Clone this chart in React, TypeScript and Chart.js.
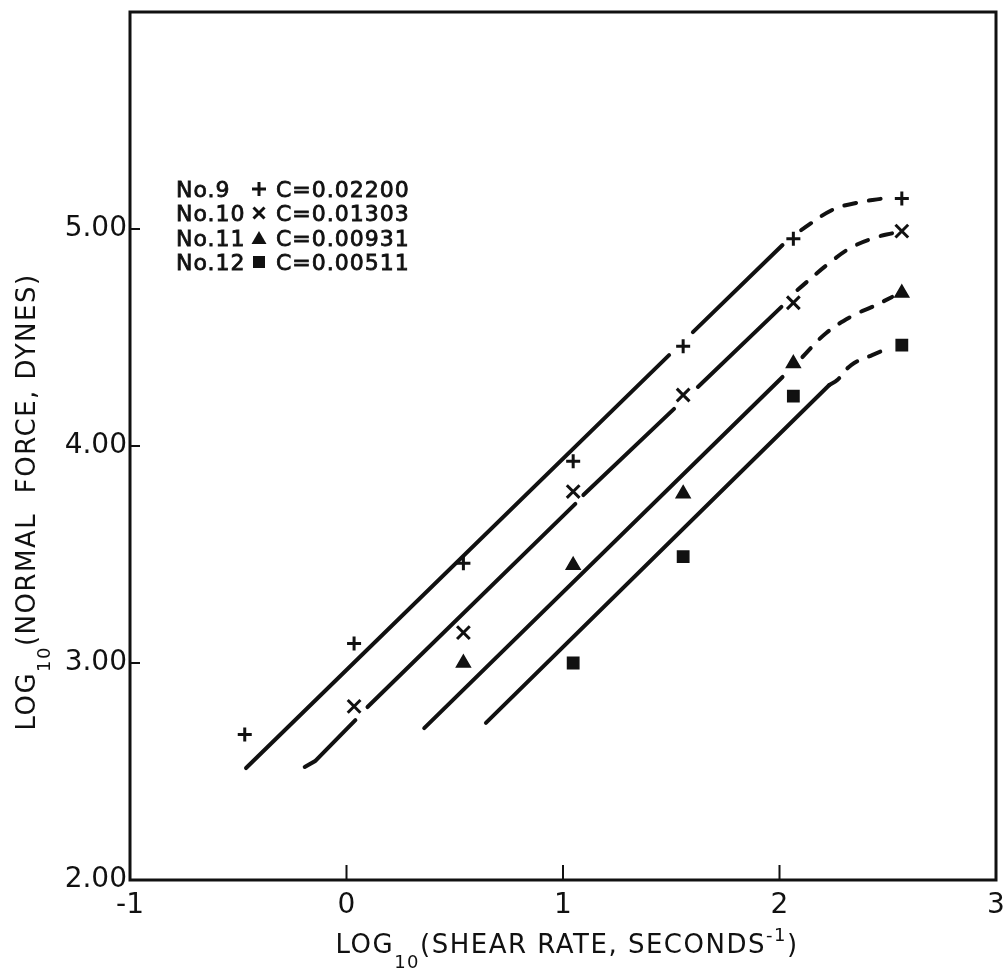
import React, { useEffect, useRef } from 'react';
import { Chart, registerables } from 'chart.js';

Chart.register(...registerables);

// ---------- data ----------
const xTicks = [-1, 0, 1, 2, 3];
const yTicks = [2, 3, 4, 5];
const xMin = -1, xMax = 3, yMin = 2, yMax = 6;

const shearRate = [-0.47, 0.035, 0.54, 1.047, 1.555, 2.064, 2.565];
const no9Force = [2.67, 3.09, 3.46, 3.93, 4.46, 4.955, 5.14];
const no10Force = [null, 2.8, 3.14, 3.79, 4.235, 4.66, 4.99];
const no11Force = [null, null, 3.0, 3.45, 3.78, 4.38, 4.705];
const no12Force = [null, null, null, 3.0, 3.49, 4.23, 4.465];

const seriesNames = ['No.9', 'No.10', 'No.11', 'No.12'];
const concentrations = ['C=0.02200', 'C=0.01303', 'C=0.00931', 'C=0.00511'];
const markerStyles = ['cross', 'crossRot', 'triangle', 'rect'];

// fitted curves: solid segments (gaps at markers) and dashed extrapolations, [x, y]
const fit9Solid = [
  [[-0.464, 2.516], [1.49, 4.419]],
  [[1.6, 4.525], [2.014, 4.926]],
];
const fit9Dashed = [[2.1, 4.995], [2.244, 5.088], [2.354, 5.12], [2.474, 5.14]];

const fit10Solid = [
  [[-0.193, 2.521], [-0.145, 2.548], [0.041, 2.737]],
  [[0.097, 2.797], [1.057, 3.733]],
  [[1.094, 3.774], [1.513, 4.171]],
  [[1.623, 4.272], [2.009, 4.641]],
];
const fit10Dashed = [[2.083, 4.719], [2.23, 4.843], [2.336, 4.917], [2.451, 4.963], [2.52, 4.98]];

const fit11Solid = [[[0.359, 2.7], [2.014, 4.318]]];
const fit11Dashed = [[2.106, 4.41], [2.216, 4.521], [2.345, 4.604], [2.428, 4.641], [2.52, 4.687]];

const fit12Solid = [[[0.644, 2.724], [2.23, 4.281]]];
const fit12Dashed = [[2.23, 4.281], [2.267, 4.304], [2.331, 4.373], [2.428, 4.419], [2.52, 4.456]];

// ---------- styling ----------
const INK = '#111111';
const FONT = '"DejaVu Sans", "Liberation Sans", sans-serif';

const toPts = (arr: number[][]) => arr.map(([x, y]) => ({ x, y }));
const seriesPts = (ys: (number | null)[]) =>
  ys.map((y, i) => (y == null ? null : { x: shearRate[i], y })).filter(Boolean) as { x: number; y: number }[];

function solidDatasets(segs: number[][][]) {
  return segs.map((s) => ({
    type: 'line' as const,
    data: toPts(s),
    showLine: true,
    borderColor: INK,
    borderWidth: 4,
    borderCapStyle: 'round' as const,
    pointRadius: 0,
    tension: 0,
    order: 2,
  }));
}
function dashedDataset(pts: number[][]) {
  return {
    type: 'line' as const,
    data: toPts(pts),
    showLine: true,
    borderColor: INK,
    borderWidth: 4,
    borderDash: [12, 13],
    borderCapStyle: 'round' as const,
    pointRadius: 0,
    tension: 0.4,
    order: 2,
  };
}
function markerDataset(ys: (number | null)[], style: string, radius: number, filled: boolean) {
  return {
    type: 'scatter' as const,
    data: seriesPts(ys),
    showLine: false,
    pointStyle: style,
    pointRadius: radius,
    pointHoverRadius: radius,
    pointBorderWidth: filled ? 1.5 : 3,
    borderColor: INK,
    backgroundColor: filled ? INK : 'transparent',
    order: 1,
  };
}

function drawRich(ctx: CanvasRenderingContext2D, parts: { t: string; size: number; dy: number }[], cx: number, baseY: number, spacing: string) {
  (ctx as any).letterSpacing = spacing;
  let total = 0;
  const widths = parts.map((p) => {
    ctx.font = `${p.size}px ${FONT}`;
    const w = ctx.measureText(p.t).width;
    total += w;
    return w;
  });
  let x = cx - total / 2;
  ctx.textAlign = 'left';
  ctx.textBaseline = 'alphabetic';
  parts.forEach((p, i) => {
    ctx.font = `${p.size}px ${FONT}`;
    ctx.fillText(p.t, x, baseY + p.dy);
    x += widths[i];
  });
  (ctx as any).letterSpacing = '0px';
}

const decorPlugin = {
  id: 'decor',
  afterDraw(chart: any) {
    const { ctx, chartArea: a, scales } = chart;
    ctx.save();
    ctx.strokeStyle = INK;
    ctx.fillStyle = INK;
    // frame
    ctx.lineWidth = 3;
    ctx.strokeRect(a.left, a.top, a.right - a.left, a.bottom - a.top);
    // inward ticks
    ctx.lineWidth = 2;
    ctx.beginPath();
    xTicks.forEach((v) => {
      if (v <= xMin || v >= xMax) return;
      const px = scales.x.getPixelForValue(v);
      ctx.moveTo(px, a.bottom);
      ctx.lineTo(px, a.bottom - 15);
    });
    yTicks.forEach((v) => {
      if (v <= yMin || v >= yMax) return;
      const py = scales.y.getPixelForValue(v);
      ctx.moveTo(a.left, py);
      ctx.lineTo(a.left + 10, py);
    });
    ctx.stroke();

    // legend block
    const rowBase = [197, 221, 246, 270];
    const nameX = 176, symX = 259, cX = 276;
    ctx.font = `22px ${FONT}`;
    (ctx as any).letterSpacing = '1px';
    ctx.textAlign = 'left';
    ctx.textBaseline = 'alphabetic';
    seriesNames.forEach((n, i) => {
      const yb = rowBase[i];
      ctx.lineWidth = 0.8;
      ctx.fillText(n, nameX, yb);
      ctx.strokeText(n, nameX, yb);
      ctx.fillText(concentrations[i], cX, yb);
      ctx.strokeText(concentrations[i], cX, yb);
      const cy = yb - 8;
      const st = markerStyles[i];
      ctx.lineWidth = 3;
      ctx.beginPath();
      if (st === 'cross') {
        ctx.moveTo(symX - 7, cy); ctx.lineTo(symX + 7, cy);
        ctx.moveTo(symX, cy - 7); ctx.lineTo(symX, cy + 7);
        ctx.stroke();
      } else if (st === 'crossRot') {
        ctx.moveTo(symX - 5.5, cy - 5.5); ctx.lineTo(symX + 5.5, cy + 5.5);
        ctx.moveTo(symX - 5.5, cy + 5.5); ctx.lineTo(symX + 5.5, cy - 5.5);
        ctx.stroke();
      } else if (st === 'triangle') {
        ctx.moveTo(symX, cy - 7); ctx.lineTo(symX + 7.5, cy + 6); ctx.lineTo(symX - 7.5, cy + 6);
        ctx.closePath(); ctx.fill();
      } else {
        ctx.rect(symX - 6, cy - 6, 12, 12); ctx.fill();
      }
    });
    (ctx as any).letterSpacing = '0px';

    // x axis title
    drawRich(ctx, [
      { t: 'LOG', size: 26, dy: 0 },
      { t: '10', size: 18, dy: 15 },
      { t: '(SHEAR RATE, SECONDS', size: 26, dy: 0 },
      { t: '-1', size: 18, dy: -12 },
      { t: ')', size: 26, dy: 0 },
    ], (a.left + a.right) / 2 + 4, 953, '1.5px');

    // y axis title
    ctx.save();
    ctx.translate(35, 502);
    ctx.rotate(-Math.PI / 2);
    drawRich(ctx, [
      { t: 'LOG', size: 26, dy: 0 },
      { t: '10', size: 18, dy: 15 },
      { t: '(NORMAL  FORCE, DYNES)', size: 26, dy: 0 },
    ], 0, 0, '1.5px');
    ctx.restore();

    ctx.restore();
  },
};

export default function App() {
  const ref = useRef<HTMLCanvasElement>(null);
  useEffect(() => {
    document.body.style.margin = '0';
    const datasets: any[] = [
      ...solidDatasets(fit9Solid), dashedDataset(fit9Dashed),
      ...solidDatasets(fit10Solid), dashedDataset(fit10Dashed),
      ...solidDatasets(fit11Solid), dashedDataset(fit11Dashed),
      ...solidDatasets(fit12Solid), dashedDataset(fit12Dashed),
      markerDataset(no9Force, 'cross', 7, false),
      markerDataset(no10Force, 'crossRot', 9, false),
      markerDataset(no11Force, 'triangle', 8, true),
      markerDataset(no12Force, 'rect', 8, true),
    ];
    const chart = new Chart(ref.current as HTMLCanvasElement, {
      type: 'scatter',
      data: { datasets },
      options: {
        responsive: false,
        devicePixelRatio: 1,
        animation: false,
        layout: { padding: { left: 0, right: 10, top: 12, bottom: 0 } },
        plugins: { legend: { display: false }, tooltip: { enabled: false } },
        scales: {
          x: {
            type: 'linear',
            min: xMin,
            max: xMax,
            grid: { display: false, drawTicks: false },
            border: { display: false },
            afterBuildTicks: (s: any) => { s.ticks = xTicks.map((v) => ({ value: v })); },
            afterFit: (s: any) => { s.height = 98; s.paddingLeft = 0; s.paddingRight = 0; },
            ticks: {
              color: INK,
              font: { family: FONT, size: 28 },
              padding: 9,
              autoSkip: false,
              maxRotation: 0,
              callback: (v: any) => String(v),
            },
          },
          y: {
            type: 'linear',
            min: yMin,
            max: yMax,
            grid: { display: false, drawTicks: false },
            border: { display: false },
            afterBuildTicks: (s: any) => { s.ticks = yTicks.map((v) => ({ value: v })); },
            afterFit: (s: any) => { s.width = 130; s.paddingTop = 0; s.paddingBottom = 0; },
            ticks: {
              color: INK,
              font: { family: FONT, size: 28 },
              padding: 3,
              autoSkip: false,
              callback: (v: any) => Number(v).toFixed(2),
            },
          },
        },
      },
      plugins: [decorPlugin],
    } as any);
    return () => chart.destroy();
  }, []);
  return (
    <div style={{ position: 'absolute', left: 0, top: 0, width: 1008, height: 978, background: '#ffffff' }}>
      <canvas ref={ref} width={1008} height={978} style={{ display: 'block', width: 1008, height: 978 }} />
    </div>
  );
}
